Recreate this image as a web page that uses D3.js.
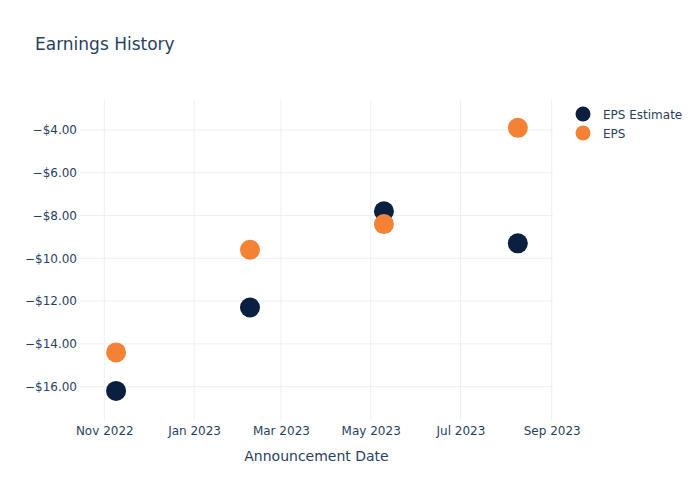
<!DOCTYPE html>
<html>
<head>
<meta charset="utf-8">
<script src="https://cdn.jsdelivr.net/npm/d3@7"></script>
<style>
  body { margin: 0; background: #fff; }
  svg { font-family: "DejaVu Sans", sans-serif; }
</style>
</head>
<body>
<div id="chart"></div>
<script>
// earnings data
var dates = ["2022-11-09", "2023-02-08", "2023-05-10", "2023-08-09"];
var epsEstimate = [-16.2, -12.3, -7.8, -9.3];
var epsActual = [-14.4, -9.6, -8.4, -3.9];
var seriesNames = ["EPS Estimate", "EPS"];
var seriesColors = ["#0b1f41", "#f58134"];

var width = 700, height = 500;
var margin = {top: 100, right: 147, bottom: 80, left: 80};
var textColor = "#2a3f5f";
var gridColor = "#ebf0f8";

var parse = d3.timeParse("%Y-%m-%d");
var points = [];
for (var i = 0; i < dates.length; i++) {
    points.push({date: parse(dates[i]), value: epsEstimate[i], series: 0});
    points.push({date: parse(dates[i]), value: epsActual[i], series: 1});
}

var svg = d3.select("#chart")
    .append("svg")
    .attr("width", width)
    .attr("height", height);

var x = d3.scaleTime()
    .domain([new Date(2022, 9, 15, 12), new Date(2023, 8, 1, 21)])
    .range([margin.left, width - margin.right]);

var y = d3.scaleLinear()
    .domain([-17.56, -2.6])
    .range([height - margin.bottom, margin.top]);

var xTicks = x.ticks(d3.timeMonth.every(2));
var yTicks = d3.range(-16, -3, 2);

// grid
svg.append("g").selectAll("line")
    .data(xTicks)
    .enter()
    .append("line")
    .attr("x1", function(d) { return x(d); })
    .attr("x2", function(d) { return x(d); })
    .attr("y1", margin.top)
    .attr("y2", height - margin.bottom)
    .style("stroke", gridColor);

svg.append("g").selectAll("line")
    .data(yTicks)
    .enter()
    .append("line")
    .attr("x1", margin.left)
    .attr("x2", width - margin.right)
    .attr("y1", function(d) { return y(d); })
    .attr("y2", function(d) { return y(d); })
    .style("stroke", gridColor);

// axes
var xAxis = svg.append("g")
    .attr("transform", "translate(0," + (height - margin.bottom) + ")")
    .call(d3.axisBottom(x).tickValues(xTicks).tickFormat(d3.timeFormat("%b %Y")).tickSize(0).tickPadding(6));

var yAxis = svg.append("g")
    .attr("transform", "translate(" + margin.left + ",0)")
    .call(d3.axisLeft(y).tickValues(yTicks).tickFormat(d3.format("$.2f")).tickSize(0).tickPadding(3));

[xAxis, yAxis].forEach(function(a) {
    a.select(".domain").remove();
    a.selectAll("text")
        .style("font-size", "12px")
        .style("fill", textColor)
        .style("font-family", "DejaVu Sans, sans-serif");
});

// points
svg.append("g").selectAll("circle")
    .data(points)
    .enter()
    .append("circle")
    .attr("cx", function(d) { return x(d.date); })
    .attr("cy", function(d) { return y(d.value); })
    .attr("r", 10)
    .style("fill", function(d) { return seriesColors[d.series]; });

// title
svg.append("text")
    .attr("x", 35)
    .attr("y", 50)
    .text("Earnings History")
    .style("font-size", "17px")
    .style("fill", textColor);

svg.append("text")
    .attr("x", (margin.left + width - margin.right) / 2)
    .attr("y", 461)
    .attr("text-anchor", "middle")
    .text("Announcement Date")
    .style("font-size", "14px")
    .style("fill", textColor);

// legend
var legend = svg.append("g").selectAll("g")
    .data(seriesNames)
    .enter()
    .append("g")
    .attr("transform", function(d, i) { return "translate(583," + (114 + i * 19) + ")"; });

legend.append("circle")
    .attr("r", 7.5)
    .style("fill", function(d, i) { return seriesColors[i]; });

legend.append("text")
    .attr("x", 20)
    .attr("y", 4.5)
    .text(function(d) { return d; })
    .style("font-size", "12px")
    .style("fill", textColor);
</script>
</body>
</html>
